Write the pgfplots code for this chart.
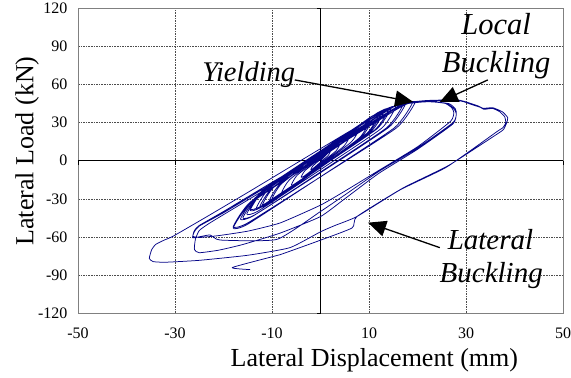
\documentclass[border=0pt]{standalone}
\usepackage{pgfplots}
\pgfplotsset{compat=1.18}
\usepackage{fontspec}
\setmainfont{Liberation Serif}
\usetikzlibrary{arrows.meta}
\definecolor{navyline}{RGB}{5,5,135}
\begin{document}
\begin{tikzpicture}
\begin{axis}[
  name=ax,
  width=485pt, height=304.5pt, scale only axis,
  xmin=-50, xmax=50, ymin=-120, ymax=120,
  xtick={-30,-10,10,30}, extra x ticks={-50,50},
  ytick={-90,-60,-30,0,30,60,90}, extra y ticks={-120,120},
  extra x tick style={grid=none}, extra y tick style={grid=none},
  grid=major,
  major grid style={draw=black!70, dash pattern=on 1.6pt off 1pt, line width=0.6pt},
  axis line style={draw=gray, line width=0.9pt},
  major tick length=0pt,
  /pgf/number format/assume math mode=true,
  tick label style={font=\fontsize{16}{18}\selectfont},
  xticklabel style={yshift=-11pt},
  yticklabel style={xshift=-7pt},
  xlabel={Lateral Displacement (mm)},
  ylabel={Lateral Load (kN)},
  label style={font=\fontsize{26}{28}\selectfont},
  xlabel style={at={(axis description cs:0.611,-0.177)}, anchor=base, inner sep=0pt},
  ylabel style={at={(axis description cs:-0.105,0.532)}, anchor=center, rotate=0, inner sep=0pt},
  clip=false,
]
\draw[black, line width=0.8pt] (axis cs:0,-120) -- (axis cs:0,120);
\draw[black, line width=0.8pt] (axis cs:-50,0) -- (axis cs:50,0);
\pgfplotsinvokeforeach{-120,-90,-60,-30,30,60,90,120}{\draw[black, line width=0.6pt] (axis cs:0,#1) -- ([xshift=-4pt]axis cs:0,#1);}
\pgfplotsinvokeforeach{-50,-30,-10,10,30,50}{\draw[black, line width=0.6pt] (axis cs:#1,0) -- ([yshift=-4pt]axis cs:#1,0);}

\addplot[navyline, line width=0.75pt, smooth, tension=0.3, line join=round] coordinates {
(0,0) (1.7,6.6) (2,7) (1.6,4.2) (0,-1.1) (-1.7,-6.6) (-2,-7) (-1.6,-4.2) (0,1.1)
(3.4,12.2) (4,13) (3.2,7.8) (0,-2.1) (-3.4,-12.2) (-4,-13) (-3.2,-7.8) (0,2.1)
(5,17.9) (6,19) (4.8,11.4) (0,-3) (-5,-17.9) (-6,-19) (-4.8,-11.4) (0,3)
(6.7,23.5) (8,25) (6.4,15) (0,-4) (-6.7,-23.5) (-8,-25) (-6.4,-15) (0,4)
(8.4,28.2) (10,30) (8,18) (0,-4.8) (-8.4,-28.2) (-10,-30) (-8,-18) (0,4.8)
(8.8,29.2) (10.5,31) (8.4,18.6) (0,-5) (-8.8,-29.2) (-10.5,-31) (-8.4,-18.6) (0,5)
(10.1,33.9) (12,36) (9.6,21.8) (0,-5.2) (-10.1,-32.9) (-12,-35) (-9.6,-20.8) (0,6.2)
(10.5,34.9) (12.5,37) (10,22.6) (0,-5.2) (-10.5,-33.9) (-12.5,-36) (-10,-21.6) (0,6.2)
(11,35.8) (13,38.2) (10.4,23) (-0.2,-6) (-11.2,-34.6) (-13.2,-37) (-10.6,-22) (0,6.8)
(11.7,37.7) (14,40) (11.2,24.4) (-0.25,-5.2) (-12.2,-35.7) (-14.5,-38) (-11.7,-22.4) (-0.25,7.2)
(12.2,38.7) (14.5,41) (11.6,25) (0,-5.2) (-12.2,-36.6) (-14.5,-39) (-11.6,-23) (0,7.2)
(13.2,40) (15.5,42.5) (12.6,25.6) (0.2,-6.5) (-12.8,-39.5) (-15.2,-42) (-12.2,-25.5) (0.3,6.9)
(14.4,41.3) (17,44) (13.7,26.2) (0.5,-7.6) (-13.4,-42.3) (-16,-45) (-12.7,-27.2) (0.5,6.6)
(14.8,41.8) (17.5,44.5) (14.1,26.4) (0.5,-8.2) (-13.8,-43.3) (-16.5,-46) (-13.1,-27.9) (0.5,6.6)
(16,43) (19,46) (15.3,26.2) (0.5,-11.4) (-15,-50) (-18,-53) (-14.3,-33.2) (0.5,4.4)
(16.5,43.5) (19.5,46) (15.7,26) (0.7,-11) (-15,-49) (-18,-52) (-14.3,-32) (0.7,4)
(10,28) (15,40) (18,45) (22,46.5) (25.5,45.5) (27,42) (27.5,38) (26.8,31) (20,11) (12.3,-7) (5,-24) (0,-35) (-8.3,-49) (-15,-55.5) (-21,-59) (-25,-60.5) (-26.3,-59.5)
(-26,-55) (-25,-51) (-20,-40) (-10,-17) (0,5.5) (10,28.5) (15,40.5) (18,45.5) (22,46.8) (26,45) (27.5,41) (28,37)
(27.3,30) (20,10) (12,-8.5) (5,-27) (0,-40) (-9,-62) (-20.7,-62.5) (-22.8,-58.5) (-26.3,-60.8)
(-26,-56) (-25,-51.5) (-20,-41) (-10,-18) (0,5) (10,28) (15,40) (18,45.5) (23,46.5) (26.5,45) (27.8,41) (28,37)
(27.3,29) (20,9) (12,-10) (5,-30) (0,-44) (-8.3,-57) (-16,-66) (-21,-70.5) (-25,-72.5) (-26,-70)
(-25.8,-62) (-25,-55) (-23,-49.5) (-20,-42.5) (-10,-19.5) (0,3.5) (10,27) (15.5,40) (18,45) (22,46.8) (25,47.3) (29,47) (31,44.5) (33,42) (33.7,40.5) (35.5,41.2) (37,38.5) (38,34.5) (38.2,30)
(37.6,26) (36.4,23) (26,-5) (16.4,-23) (7.5,-44) (3,-51) (0,-56) (-6.3,-68.5) (-15,-74.5) (-25,-78.5) (-32,-80) (-34.5,-79.5) (-35.3,-77)
(-34.8,-70) (-34,-66) (-32.2,-62.5) (-30.4,-59.5) (-23.4,-44) (-15,-25) (-6.3,-5) (5,21) (10,32) (14,41) (17,45.5) (22,47.5) (28.5,47.8) (32.5,43.2) (33.5,41.3) (35.5,41.8) (37.5,38.6) (38.6,34) (38.4,30)
(37.8,25) (36.8,22) (26.5,-3.5) (17,-21.5) (7.5,-44) (6.5,-53) (-1,-64) (-8.3,-74) (-9.8,-75.5) (-18.2,-84.2) (-14.5,-85.8)
};

\draw[-{Triangle[length=18pt,width=16pt]}, line width=1.3pt] (axis cs:-5.3,63.7) -- (axis cs:19.1,46.4);
\draw[-{Triangle[length=18pt,width=16pt]}, line width=1.3pt] (axis cs:34.5,63.7) -- (axis cs:24.6,46.4);
\draw[-{Triangle[length=18pt,width=16pt]}, line width=1.3pt] (axis cs:24.6,-68.5) -- (axis cs:9.8,-48.8);

\node[anchor=base, inner sep=0pt, font=\fontsize{28.5}{30}\selectfont\itshape] at (axis cs:-14.8,62.2) {Yielding};
\node[anchor=base, inner sep=0pt, font=\fontsize{30.5}{32}\selectfont\itshape] at (axis cs:36.2,99.2) {Local};
\node[anchor=base, inner sep=0pt, font=\fontsize{30.5}{32}\selectfont\itshape] at (axis cs:36.2,69.2) {Buckling};
\node[anchor=base, inner sep=0pt, font=\fontsize{29}{31}\selectfont\itshape] at (axis cs:35.05,-70) {Lateral};
\node[anchor=base, inner sep=0pt, font=\fontsize{29}{31}\selectfont\itshape] at (axis cs:35.2,-96) {Buckling};
\end{axis}
\pgfresetboundingbox
\useasboundingbox ([shift={(-78pt,-65pt)}]ax.south west) rectangle ([shift={(8pt,8.5pt)}]ax.north east);
\end{tikzpicture}
\end{document}
